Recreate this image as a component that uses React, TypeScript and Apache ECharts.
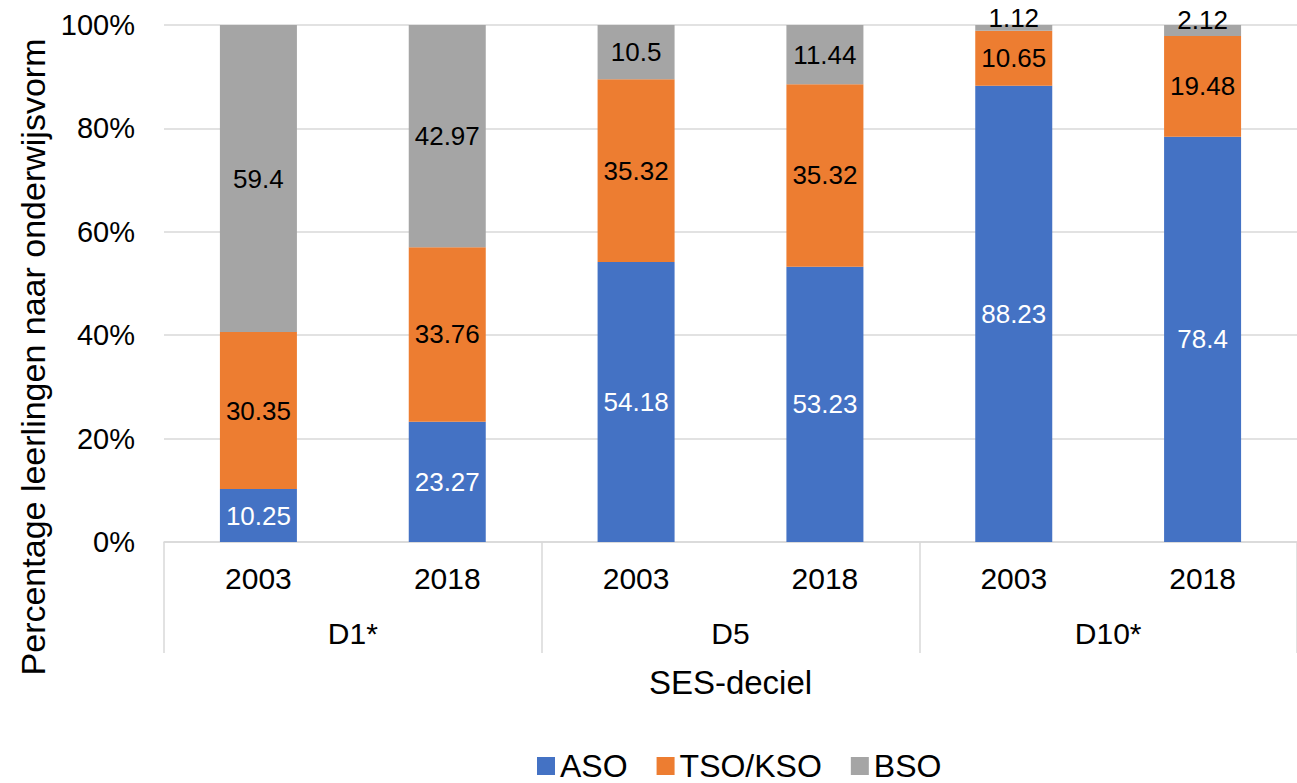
import React, { useEffect, useRef } from "react";
import * as echarts from "echarts";

const years = ["2003", "2018", "2003", "2018", "2003", "2018"];
const groups = ["D1*", "D5", "D10*"];
const aso = [10.25, 23.27, 54.18, 53.23, 88.23, 78.4];
const tso = [30.35, 33.76, 35.32, 35.32, 10.65, 19.48];
const bso = [59.4, 42.97, 10.5, 11.44, 1.12, 2.12];
const yTicks = [0, 20, 40, 60, 80, 100];

const AXIS_FONT = "Liberation Sans, Arial, sans-serif";
const LABEL_FONT = "Liberation Sans, Arial, sans-serif";

export default function App() {
  const ref = useRef<HTMLDivElement>(null);
  useEffect(() => {
    const chart = echarts.init(ref.current!, null, { renderer: "svg" });
    const lbl = (color: string) => ({
      show: true,
      position: "inside",
      color,
      fontSize: 26,
      fontFamily: LABEL_FONT,
    });
    chart.setOption({
      animation: false,
      backgroundColor: "#ffffff",
      textStyle: { fontFamily: AXIS_FONT },
      grid: { left: 164, width: 1137, top: 25, bottom: 241, containLabel: false },
      legend: {
        top: 750,
        left: 537,
        padding: 0,
        itemWidth: 18,
        itemHeight: 18,
        itemGap: 29,
        icon: "rect",
        textStyle: { fontSize: 32, lineHeight: 26, color: "#000", fontFamily: AXIS_FONT },
        data: ["ASO", "TSO/KSO", "BSO"],
      },
      xAxis: [
        {
          type: "category",
          data: years,
          position: "bottom",
          axisLine: { show: true, lineStyle: { color: "#d9d9d9", width: 1.5 } },
          axisTick: { show: false },
          axisLabel: { color: "#000", fontSize: 30, margin: 21, fontFamily: AXIS_FONT },
        },
        {
          type: "category",
          data: groups,
          position: "bottom",
          gridIndex: 0,
          axisLine: { show: false },
          axisTick: { show: true, length: 111, lineStyle: { color: "#d9d9d9", width: 1.5 } },
          axisLabel: { color: "#000", fontSize: 30, margin: 76, fontFamily: AXIS_FONT },
          name: "SES-deciel",
          nameLocation: "middle",
          nameGap: 124,
          nameTextStyle: { color: "#000", fontSize: 33, fontFamily: AXIS_FONT },
        },
      ],
      yAxis: {
        type: "value",
        min: yTicks[0],
        max: yTicks[yTicks.length - 1],
        interval: 20,
        axisLine: { show: false },
        axisTick: { show: false },
        splitLine: { lineStyle: { color: "#d9d9d9", width: 1.5 } },
        axisLabel: { color: "#000", fontSize: 29, margin: 29, formatter: "{value}%", fontFamily: AXIS_FONT },
      },
      graphic: [
        {
          type: "text",
          x: 33,
          y: 357,
          rotation: Math.PI / 2,
          style: {
            text: "Percentage leerlingen naar onderwijsvorm",
            fontSize: 34,
            fontFamily: AXIS_FONT,
            fill: "#000",
            align: "center",
            verticalAlign: "middle",
          },
        },
      ],
      series: [
        {
          name: "ASO",
          type: "bar",
          stack: "a",
          barWidth: 77,
          itemStyle: { color: "#4472C4" },
          label: lbl("#ffffff"),
          data: aso,
        },
        {
          name: "TSO/KSO",
          type: "bar",
          stack: "a",
          barWidth: 77,
          itemStyle: { color: "#ED7D31" },
          label: lbl("#000000"),
          data: tso,
        },
        {
          name: "BSO",
          type: "bar",
          stack: "a",
          barWidth: 77,
          itemStyle: { color: "#A5A5A5" },
          label: lbl("#000000"),
          data: bso.map((v) =>
            v < 5 ? { value: v, label: { offset: [0, -10] } } : v
          ),
        },
      ],
    });
    return () => chart.dispose();
  }, []);
  return (
    <div
      ref={ref}
      style={{ position: "fixed", left: 0, top: 0, width: 1297, height: 783 }}
    />
  );
}
